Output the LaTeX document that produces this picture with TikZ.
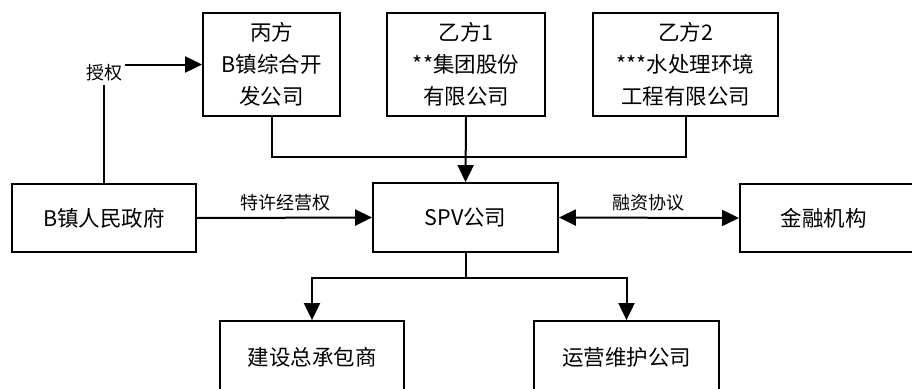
\documentclass[tikz,border=0pt]{standalone}
\usepackage{fontspec}
\setmainfont{Noto Sans CJK SC}
\usetikzlibrary{arrows.meta}
\begin{document}
\begin{tikzpicture}[x=1pt,y=-1pt,
  box/.style={draw=black,line width=1.8pt,fill=white,inner sep=0pt,align=center,
    font=\fontsize{21.5}{32}\selectfont},
  lbl/.style={inner sep=0pt,font=\fontsize{18}{20}\selectfont},
  conn/.style={line width=2pt},
  arr/.style={line width=2pt,-{Triangle[length=17pt,width=16pt]}},
  darr/.style={line width=2pt,{Triangle[length=17pt,width=16pt]}-{Triangle[length=17pt,width=16pt]}}]
\useasboundingbox (0,0) rectangle (912,388);
\clip (0,0) rectangle (912,388);
\fill[white] (0,0) rectangle (912,388);
% nodes
\node[box,minimum width=137pt,minimum height=103pt] (c)  at (271.5,64.5) {丙方\\B镇综合开\\发公司};
\node[box,minimum width=158pt,minimum height=103pt] (y1) at (466,64.5) {乙方1\\**集团股份\\有限公司};
\node[box,minimum width=185pt,minimum height=103pt] (y2) at (685.5,64.5) {乙方2\\***水处理环境\\工程有限公司};
\node[box,minimum width=184pt,minimum height=68pt] (gov) at (104,218) {B镇人民政府};
\node[box,minimum width=185pt,minimum height=69pt] (spv) at (465.5,217.5) {SPV公司};
\node[box,minimum width=176pt,minimum height=68pt,anchor=west] (fin) at (739,218) {\hspace*{-8pt}金融机构};
\node[box,minimum width=184pt,minimum height=72pt] (cons) at (312,357) {建设总承包商};
\node[box,minimum width=185pt,minimum height=72pt] (ops) at (626.5,357) {运营维护公司};
% labels
\node[lbl,inner sep=3pt] (auth) at (104,73) {授权};
\node[lbl] (lic) at (285,203) {特许经营权};
\node[lbl] (fa) at (648,203) {融资协议};
% junctions
\coordinate (jt) at (466,157);
\coordinate (jb) at (465.5,278);
% connectors
\draw[conn] (gov.north) -- (gov.north |- auth.south);
\draw[arr] (auth.east |- c.west) -- (c.west);
\draw[conn] (c.south) -- (c.south |- jt) -- (jt);
\draw[conn] (y2.south) -- (y2.south |- jt) -- (jt);
\draw[arr] (y1.south) -- (spv.north);
\draw[arr] (gov.east) -- (spv.west);
\draw[darr] (spv.east) -- (fin.west);
\draw[conn] (spv.south) -- (jb);
\draw[arr] (jb) -- (jb -| cons.north) -- (cons.north);
\draw[arr] (jb) -- (jb -| ops.north) -- (ops.north);
\end{tikzpicture}
\end{document}
